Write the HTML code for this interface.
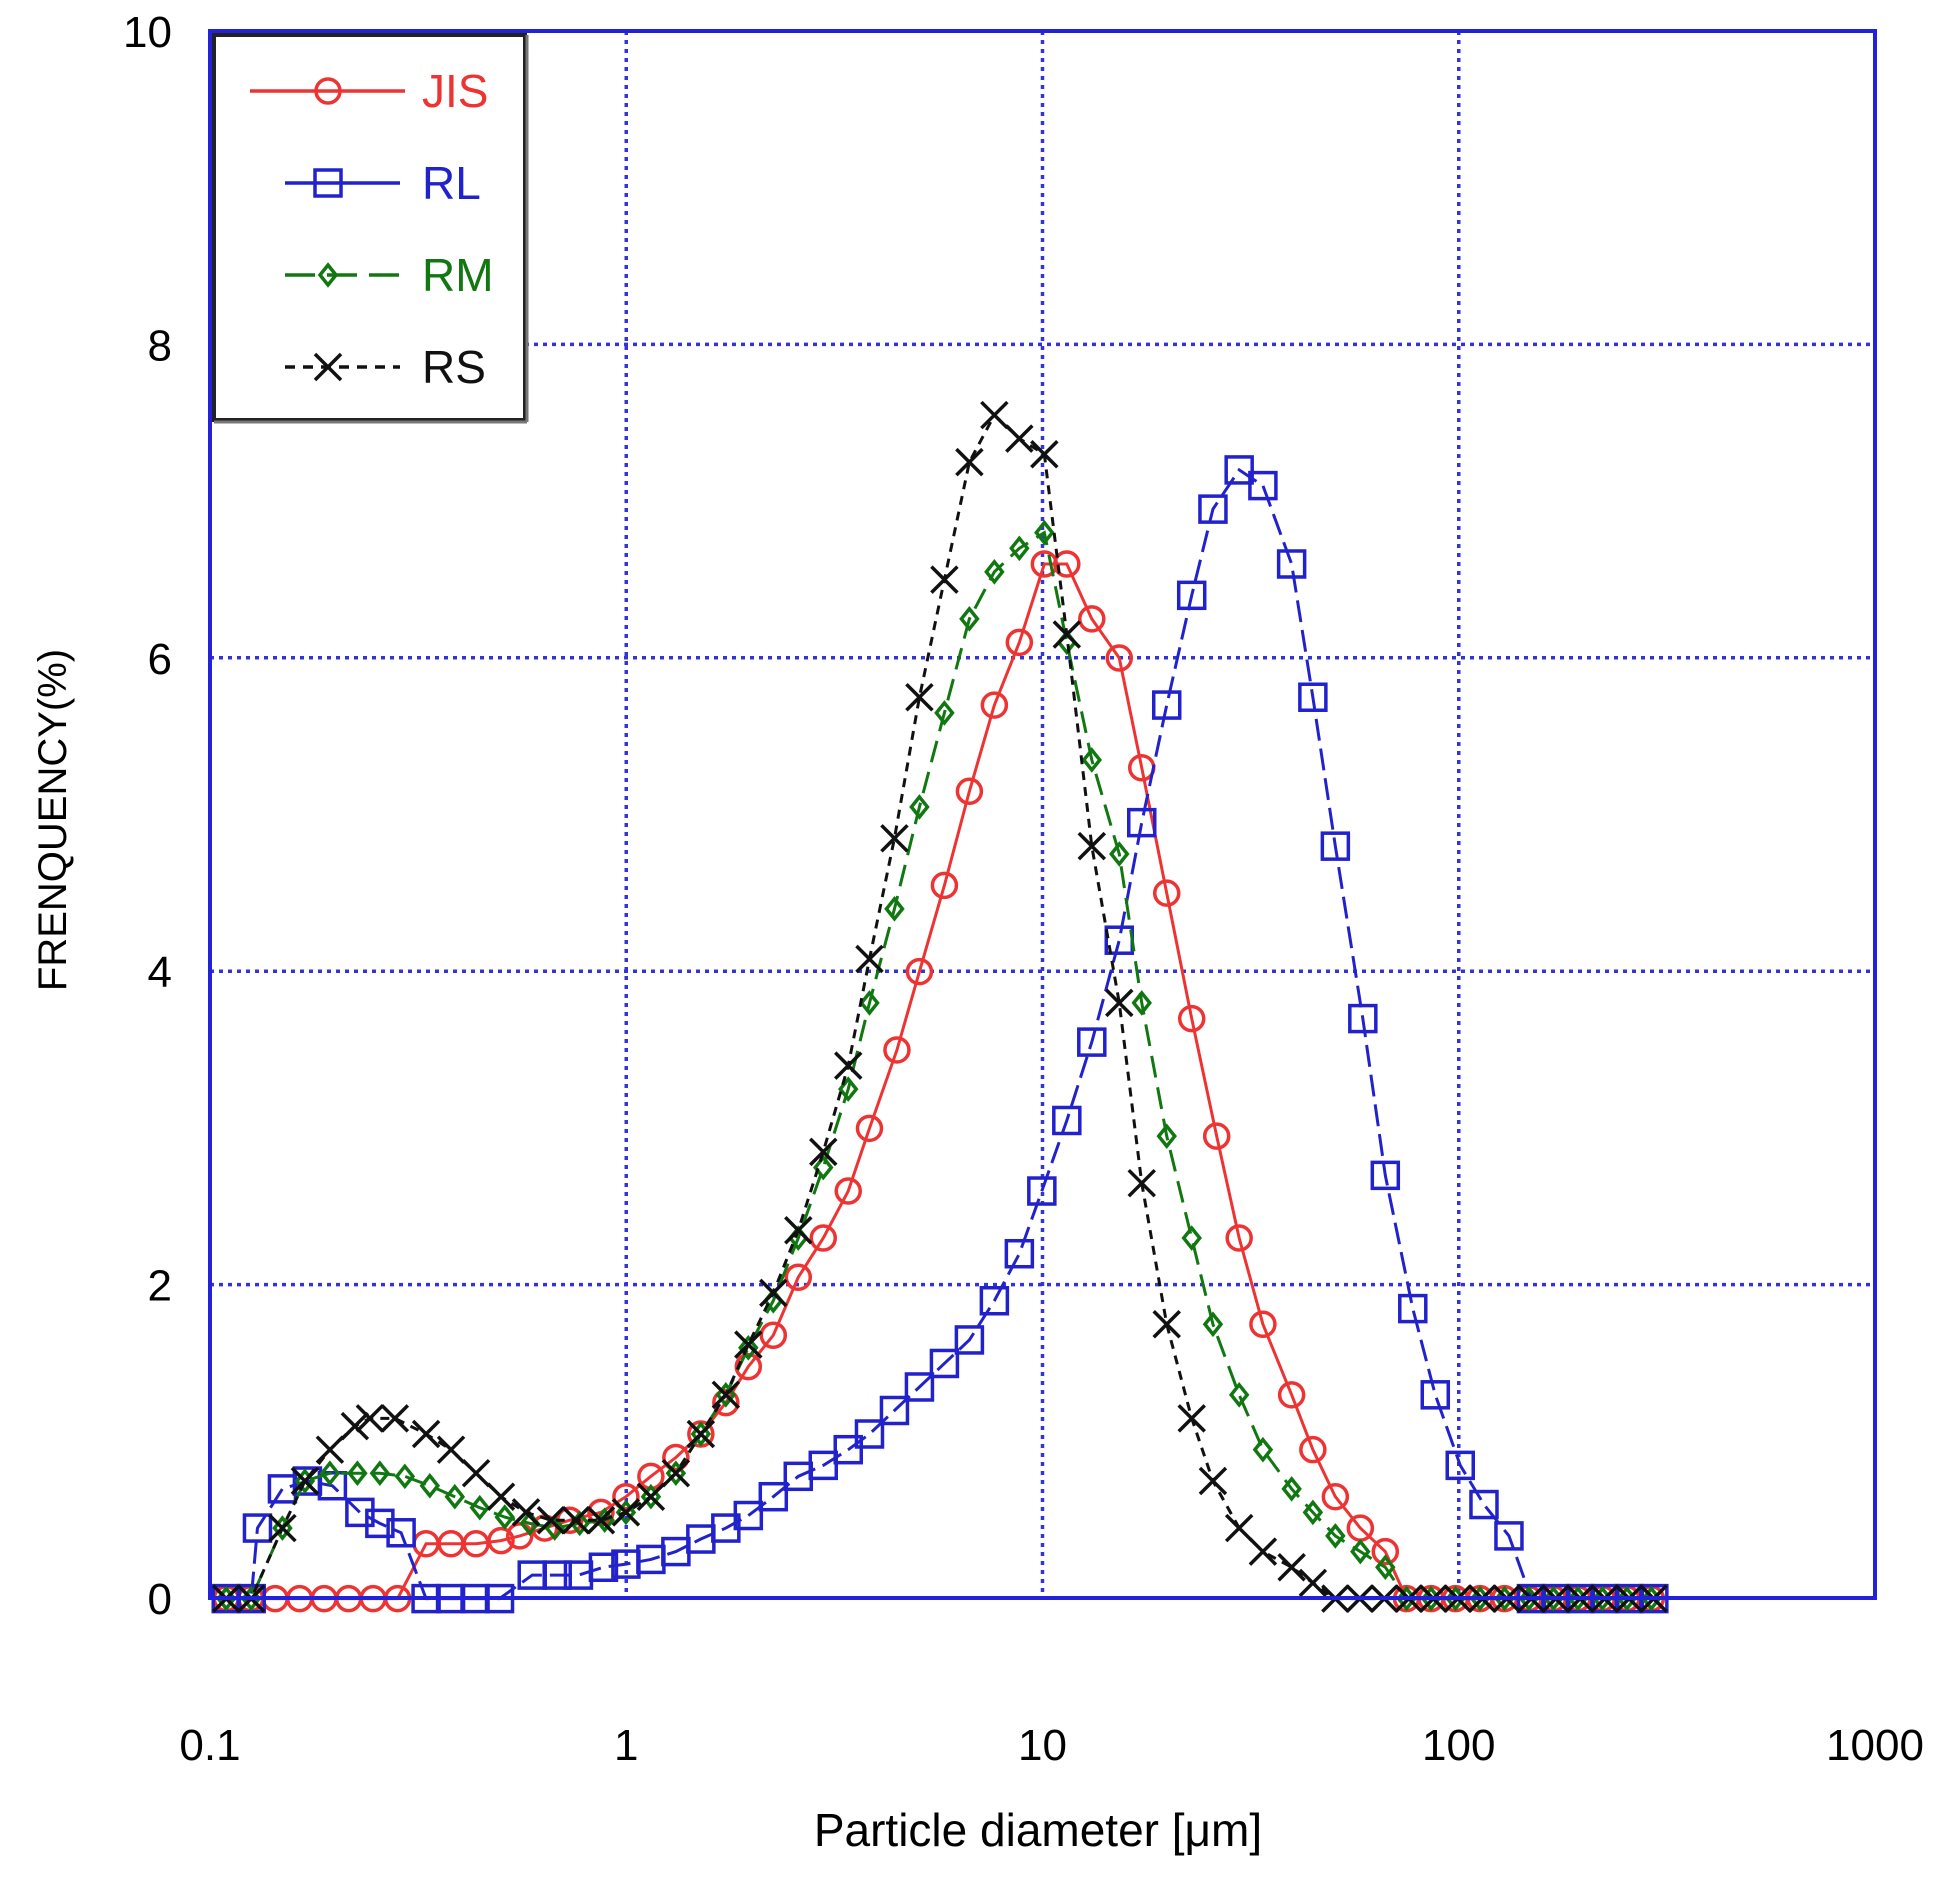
<!DOCTYPE html>
<html><head><meta charset="utf-8"><style>
html,body{margin:0;padding:0;background:#fff;width:1955px;height:1890px;overflow:hidden}
svg{display:block;font-family:"Liberation Sans",sans-serif}
</style></head><body>
<svg id="s" width="1955" height="1890" xmlns="http://www.w3.org/2000/svg">
<rect width="1955" height="1890" fill="#fff"/>
<g id="grid"></g>
<g id="series"></g>
<rect x="210" y="31" width="1665" height="1567" fill="none" stroke="#2222dd" stroke-width="4"/>
<g id="labels" font-size="44" fill="#000"></g>
<text x="1038" y="1846" font-size="46" text-anchor="middle">Particle diameter  [μm]</text>
<text transform="translate(66,820) rotate(-90)" font-size="40" text-anchor="middle">FRENQUENCY(%)</text>
<g id="legend">
<rect x="214" y="35" width="311" height="385" fill="#fff" stroke="#222" stroke-width="4"/>
<line x1="527" y1="35" x2="527" y2="422" stroke="#777" stroke-width="3"/>
<line x1="214" y1="422" x2="527" y2="422" stroke="#777" stroke-width="3"/>
</g>
</svg>
<script>
const NS="http://www.w3.org/2000/svg";
function el(p,t,a){const e=document.createElementNS(NS,t);for(const k in a)e.setAttribute(k,a[k]);p.appendChild(e);return e;}
const X=x=>210+(x-172)*1.249, Y=y=>31+(y-25)*1.204;
const g=document.getElementById('grid');
for(const dx of [1,2,3]){const x=210+dx*416.25;el(g,'line',{x1:x,y1:31,x2:x,y2:1598,stroke:'#3333dd','stroke-width':3.5,'stroke-dasharray':'4,5'});}
for(const v of [2,4,6,8]){const y=1598-v*156.7;el(g,'line',{x1:210,y1:y,x2:1875,y2:y,stroke:'#3333dd','stroke-width':3.5,'stroke-dasharray':'4,5'});}
const L=document.getElementById('labels');
for(const v of [0,2,4,6,8,10]){const t=el(L,'text',{x:172,y:1598-v*156.7+16,'text-anchor':'end'});t.textContent=v;}
['0.1','1','10','100','1000'].forEach((s,i)=>{const t=el(L,'text',{x:210+i*416.25,y:1760,'text-anchor':'middle'});t.textContent=s;});
const zero=(a,b)=>{const r=[];for(let x=a;x<=b+1;x+=19.6)r.push([x,1327]);return r;};
const toP=arr=>arr.map(([x,v])=>[x,v<20?1327-v*130.2:v]);
const JIS=[...zero(185,330),...toP([[345,0.35],[365,0.35],[385,0.35],[405,0.37],[420,0.4],[440,0.45],[460,0.5],[485,0.55],[505,0.65],[525,0.78],[545,0.9],[565,1.05],[585,1.25],[603,1.48],[623,1.68],[643,2.05],[663,2.3],[683,2.6],[700,3.0],[722,3.5],[740,4.0],[760,4.55],[780,5.15],[800,5.7],[820,6.1],[840,6.6],[858,6.6],[878,6.25],[900,6.0],[918,5.3],[938,4.5],[958,3.7],[978,2.95],[996,2.3],[1015,1.75],[1038,1.3],[1055,0.95],[1073,0.65],[1093,0.45],[1113,0.3]]),...zero(1130,1340)];
const RL=[...toP([[185,0],[205,0],[210,0.45],[230,0.7],[250,0.75],[270,0.72],[292,0.55],[308,0.48],[325,0.42]]),...zero(345,410),...toP([[430,0.15],[450,0.15],[467,0.15],[487,0.2],[505,0.22],[525,0.25],[545,0.3],[565,0.38],[585,0.45],[603,0.53],[623,0.65],[643,0.78],[663,0.85],[683,0.95],[700,1.05],[720,1.2],[740,1.35],[760,1.5],[780,1.65],[800,1.9],[820,2.2],[838,2.6],[858,3.05],[878,3.55],[900,4.2],[918,4.95],[938,5.7],[958,6.4],[975,6.95],[996,7.2],[1015,7.1],[1038,6.6],[1055,5.75],[1073,4.8],[1095,3.7],[1113,2.7],[1135,1.85],[1153,1.3],[1173,0.85],[1192,0.6],[1212,0.4]]),...zero(1230,1340)];
const RM=[...toP([[185,0],[205,0],[230,0.45],[248,0.75],[268,0.8],[290,0.8],[308,0.8],[328,0.78],[348,0.72],[368,0.65],[388,0.58],[408,0.52],[428,0.48],[448,0.45],[468,0.48],[488,0.5],[505,0.55],[525,0.65],[545,0.8],[565,1.05],[585,1.3],[603,1.6],[623,1.9],[643,2.3],[663,2.75],[683,3.25],[700,3.8],[720,4.4],[740,5.05],[760,5.65],[780,6.25],[800,6.55],[820,6.7],[840,6.8],[858,6.1],[878,5.35],[900,4.75],[918,3.8],[938,2.95],[958,2.3],[975,1.75],[996,1.3],[1015,0.95],[1038,0.7],[1055,0.55],[1073,0.4],[1093,0.3],[1113,0.2]]),...zero(1130,1340)];
const RS=[...toP([[185,0],[205,0],[230,0.45],[248,0.75],[268,0.95],[288,1.1],[300,1.15],[320,1.15],[345,1.05],[365,0.95],[385,0.8],[405,0.65],[425,0.55],[445,0.5],[465,0.5],[485,0.5],[505,0.55],[525,0.65],[545,0.8],[565,1.05],[585,1.3],[603,1.62],[623,1.95],[643,2.35],[663,2.85],[683,3.4],[700,4.08],[720,4.85],[740,5.75],[760,6.5],[780,7.25],[800,7.55],[820,7.4],[840,7.3],[858,6.15],[878,4.8],[900,3.8],[918,2.65],[938,1.75],[958,1.15],[975,0.75],[996,0.45],[1015,0.3],[1038,0.2],[1055,0.1]]),...zero(1073,1340)];
const S=document.getElementById('series');
function marker(p,type,x,y,c){
 if(type=='o')el(p,'circle',{cx:x,cy:y,r:12,fill:'none',stroke:c,'stroke-width':3.5});
 else if(type=='s')el(p,'rect',{x:x-13,y:y-13,width:26,height:26,fill:'none',stroke:c,'stroke-width':3.5});
 else if(type=='d')el(p,'polygon',{points:`${x},${y-10} ${x+8},${y} ${x},${y+10} ${x-8},${y}`,fill:'none',stroke:c,'stroke-width':3.5});
 else {el(p,'path',{d:`M${x-13} ${y-13}L${x+13} ${y+13}M${x+13} ${y-13}L${x-13} ${y+13}`,stroke:c,'stroke-width':3.5});}
}
function series(d,c,type,dash){
 const pts=d.map(([x,y])=>[X(x),Y(y)]);
 const a={points:pts.map(p=>p.join(',')).join(' '),fill:'none',stroke:c,'stroke-width':3};
 if(dash)a['stroke-dasharray']=dash;
 el(S,'polyline',a);
 pts.forEach(p=>marker(S,type,p[0],p[1],c));
}
series(JIS,'#ee3333','o',null);
series(RL,'#2222cc','s','22,8');
series(RM,'#117711','d','22,10');
series(RS,'#111','x','9,7');
const Lg=document.getElementById('legend');
const items=[['JIS','#ee3333','o',null],['RL','#2222cc','s',null],['RM','#117711','d','30,12'],['RS','#111','x','10,8']];
items.forEach(([n,c,t,d],i)=>{const y=91+i*92;const a={x1:i==0?250:285,y1:y,x2:i==0?405:400,y2:y,stroke:c,'stroke-width':3.5};if(d)a['stroke-dasharray']=d;el(Lg,'line',a);marker(Lg,t,328,y,c);const tx=el(Lg,'text',{x:422,y:y+16,'font-size':46,fill:c});tx.textContent=n;});
</script>
</body></html>
